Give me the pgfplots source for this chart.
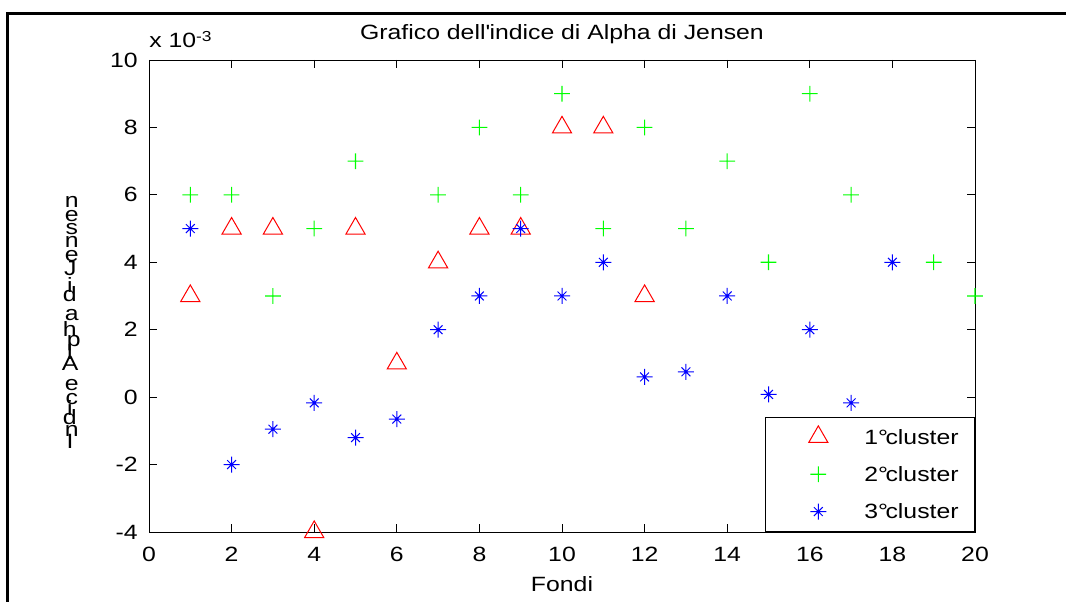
\documentclass[border=0pt]{standalone}
\usepackage{pgfplots}
\pgfplotsset{compat=1.18}
\usepackage{fontspec}
\setmainfont{Liberation Sans}[FakeStretch=1.2]
\usepackage{graphicx}
\definecolor{mred}{RGB}{255,0,0}
\definecolor{mgreen}{RGB}{0,255,0}
\definecolor{mblue}{RGB}{0,0,255}
\newlength\ucw
\newcommand\uc[1]{\settowidth\ucw{#1}\makebox[\ucw][c]{\rotatebox[origin=c]{-90}{#1}}}
\newcommand\mf{\fontsize{15.5}{18.6}\selectfont}
\pgfdeclareplotmark{mstar}{%
  \pgfpathmoveto{\pgfqpoint{0pt}{\pgfplotmarksize}}\pgfpathlineto{\pgfqpoint{0pt}{-\pgfplotmarksize}}%
  \pgfpathmoveto{\pgfqpoint{\pgfplotmarksize}{0pt}}\pgfpathlineto{\pgfqpoint{-\pgfplotmarksize}{0pt}}%
  \pgfpathmoveto{\pgfqpoint{.55\pgfplotmarksize}{.55\pgfplotmarksize}}\pgfpathlineto{\pgfqpoint{-.55\pgfplotmarksize}{-.55\pgfplotmarksize}}%
  \pgfpathmoveto{\pgfqpoint{-.55\pgfplotmarksize}{.55\pgfplotmarksize}}\pgfpathlineto{\pgfqpoint{.55\pgfplotmarksize}{-.55\pgfplotmarksize}}%
  \pgfusepathqstroke
  \pgfpathcircle{\pgfpointorigin}{0.9pt}\pgfusepathqfill}
\pgfdeclareplotmark{mplus}{%
  \pgfpathrectanglecorners{\pgfqpoint{-0.4pt}{-\pgfplotmarksize}}{\pgfqpoint{0.4pt}{\pgfplotmarksize}}%
  \pgfpathrectanglecorners{\pgfqpoint{-\pgfplotmarksize}{-0.4pt}}{\pgfqpoint{\pgfplotmarksize}{0.4pt}}%
  \pgfsetfillcolor{mgreen}\pgfusepathqfill}
\pgfplotstableread{
x y
1 3
2 5
3 5
4 -4
5 5
6 1
7 4
8 5
9 5
10 8
11 8
12 3
}\clA
\pgfplotstableread{
x y
1 6
2 6
3 3
4 5
5 7
7 6
8 8
9 6
10 9
11 5
12 8
13 5
14 7
15 4
16 9
17 6
19 4
20 3
}\clB
\pgfplotstableread{
x y
1 5
2 -2
3 -0.95
4 -0.17
5 -1.2
6 -0.65
7 2
8 3
9 5
10 3
11 4
12 0.6
13 0.75
14 3
15 0.08
16 2
17 -0.17
18 4
}\clC
\begin{document}
\mf
\begin{tikzpicture}
\useasboundingbox (0,0) rectangle (799.5pt,451.5pt);
\draw[line width=2.25pt] (5.25pt,-3pt) -- (5.25pt,441pt) -- (803pt,441pt);
\begin{axis}[
  at={(111.75pt,52.5pt)}, anchor=south west, scale only axis,
  width=619.5pt, height=354pt,
  xmin=0, xmax=20, ymin=-4, ymax=10,
  xtick={0,2,...,20}, ytick={-4,-2,...,10},
  tick align=inside, major tick length=6pt,
  axis line style={line width=0.6pt},
  every tick/.style={black, line width=0.6pt},
  /pgf/number format/assume math mode=true,
  xticklabel style={anchor=base, inner sep=0pt, yshift=-22.5pt},
  yticklabel style={anchor=east, inner sep=0pt, xshift=-8.25pt},
  xlabel={Fondi},
  xlabel style={at={(0.5,0)}, anchor=base, yshift=-45pt, inner sep=0pt},
  clip=false,
  legend cell align=left,
  legend style={at={(1,0)}, anchor=south east, draw=black, line width=0.6pt, fill=white,
    inner xsep=0pt, inner ysep=1pt, row sep=0pt,
    nodes={inner sep=0pt, text height=19.5pt, text depth=8.5pt}},
  legend image code/.code={\path[draw=none,fill=none] (0pt,-14pt) rectangle (74.25pt,14pt); \draw[#1] plot coordinates {(39.75pt,0pt)};},
]
\addplot[only marks, mark=triangle, mark size=8.3pt, color=mred, line width=0.75pt,
  mark options={draw=mred}] table[x=x,y=y] {\clA};
\addlegendentry{1°\kern-0.12em cluster\kern12pt}
\addplot[only marks, mark=mplus, mark size=5.9pt, color=mgreen,
  mark options={fill=mgreen,draw=none}] table[x=x,y=y] {\clB};
\addlegendentry{2°\kern-0.12em cluster\kern12pt}
\addplot[only marks, mark=mstar, mark size=6pt, color=mblue, line width=0.75pt,
  mark options={draw=mblue,fill=mblue}] table[x=x,y=y] {\clC};
\addlegendentry{3°\kern-0.12em cluster\kern12pt}
\node[anchor=base west, inner sep=0pt] at (rel axis cs:0,1) [yshift=9pt] {x 10\textsuperscript{-3}};
\node[anchor=base, inner sep=0pt] at (rel axis cs:0.5,1) [yshift=15pt] {Grafico dell\textquotesingle indice di Alpha di Jensen};
\end{axis}
\node[rotate=90] at (53.5pt,211.5pt) {\uc{I}\uc{n}\uc{d}\uc{i}\uc{c}\uc{e} \uc{A}\uc{l}\uc{p}\uc{h}\uc{a} \uc{d}\uc{i} \uc{J}\uc{e}\uc{n}\uc{s}\uc{e}\uc{n}};
\end{tikzpicture}
\end{document}
